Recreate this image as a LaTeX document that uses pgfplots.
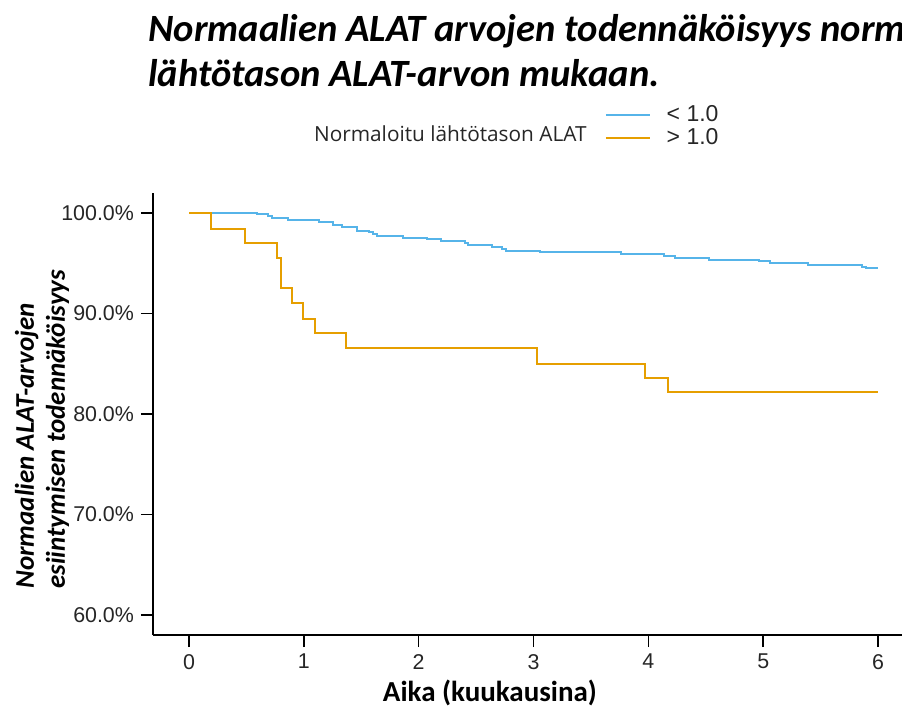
\documentclass[border=0pt]{standalone}
\usepackage{fontspec}
\setmainfont{Liberation Sans}
\newfontfamily\carlito{Carlito}
\newfontfamily\opensans{Open Sans}
\usepackage{pgfplots}
\pgfplotsset{compat=1.18}
\definecolor{kmblue}{RGB}{86,180,233}
\definecolor{kmorange}{RGB}{230,159,0}
\begin{document}
\begin{tikzpicture}
\useasboundingbox (-76.5pt,-37pt) rectangle (374.5pt,317.5pt);
\clip (-76.5pt,-37pt) rectangle (374.5pt,317.5pt);
\begin{axis}[
  at={(0pt,0pt)}, anchor=south west,
  scale only axis, width=376.9pt, height=221pt,
  xmin=-0.3135, xmax=6.25, ymin=58, ymax=102,
  axis x line*=bottom, axis y line*=left,
  axis line style={line width=0.8pt, -},
  tick align=outside, major tick length=6pt,
  tick style={line width=0.8pt, black},
  xtick={0,1,2,3,4,5,6}, xticklabels={0,1,2,3,4,5,6},
  ytick={60,70,80,90,100},
  yticklabels={60.0\%,70.0\%,80.0\%,90.0\%,100.0\%},
  ticklabel style={font=\fontsize{10.7}{12}\selectfont, text=black!85},
  xlabel={Aika (kuukausina)},
  xlabel style={at={(axis description cs:0.447,0)}, anchor=base, yshift=-33pt,
    font=\carlito\bfseries\fontsize{14.5}{16}\selectfont},
  legend style={at={(axis description cs:0.599,1.099)}, anchor=south west,
    draw=none, fill=none, inner sep=0pt, row sep=0pt,
    nodes={inner sep=0.9pt, font=\fontsize{11.5}{13}\selectfont, text=black!85}},
  legend cell align=left,
  legend image code/.code={\draw[#1] (0pt,0pt) -- (22pt,0pt); \path[draw=none,fill=none] (0pt,0pt) -- (29.5pt,0pt);},
]
\addplot[const plot, color=kmblue, line width=1pt] coordinates {
(0,100) (0.595,99.87) (0.691,99.67) (0.726,99.47) (0.865,99.30) (1.135,99.10)
(1.254,98.84) (1.335,98.61) (1.460,98.24) (1.570,98.08) (1.599,97.88) (1.634,97.71)
(1.866,97.55) (2.070,97.38) (2.195,97.18) (2.404,96.98) (2.433,96.78) (2.636,96.62)
(2.729,96.42) (2.761,96.25) (3.057,96.09) (3.759,95.92) (4.137,95.72) (4.230,95.52)
(4.531,95.36) (4.967,95.19) (5.060,94.99) (5.393,94.82) (5.858,94.66) (5.893,94.49)
(6.0,94.49)
};
\addlegendentry{< 1.0}
\addplot[const plot, color=kmorange, line width=1pt] coordinates {
(0,100) (0.19,98.38) (0.49,96.98) (0.77,95.56) (0.80,92.5) (0.90,91.08)
(0.99,89.5) (1.10,88.03) (1.37,86.6) (3.03,85.0) (3.97,83.55) (4.17,82.2) (6.0,82.2)
};
\addlegendentry{> 1.0}
\end{axis}
\node[anchor=east, inner sep=0pt, font=\opensans\fontsize{10.4}{12}\selectfont, text=black!85] at (217pt,250.5pt) {Normaloitu lähtötason ALAT};
\node[anchor=base west, inner sep=0pt, font=\carlito\bfseries\itshape\fontsize{19.3}{22}\selectfont] at (-2.5pt,297pt) {Normaalien ALAT arvojen todennäköisyys normaaleina pysymisestä};
\node[anchor=base west, inner sep=0pt, font=\carlito\bfseries\itshape\fontsize{19.3}{22}\selectfont] at (-2.5pt,274.5pt) {lähtötason ALAT-arvon mukaan.};
\node[rotate=90, anchor=base west, inner sep=0pt, font=\carlito\bfseries\itshape\fontsize{13.5}{16}\selectfont] at (-59.5pt,23pt) {Normaalien ALAT-arvojen};
\node[rotate=90, anchor=base west, inner sep=0pt, font=\carlito\bfseries\itshape\fontsize{13.5}{16}\selectfont] at (-44pt,23pt) {esiintymisen todennäköisyys};
\end{tikzpicture}
\end{document}
